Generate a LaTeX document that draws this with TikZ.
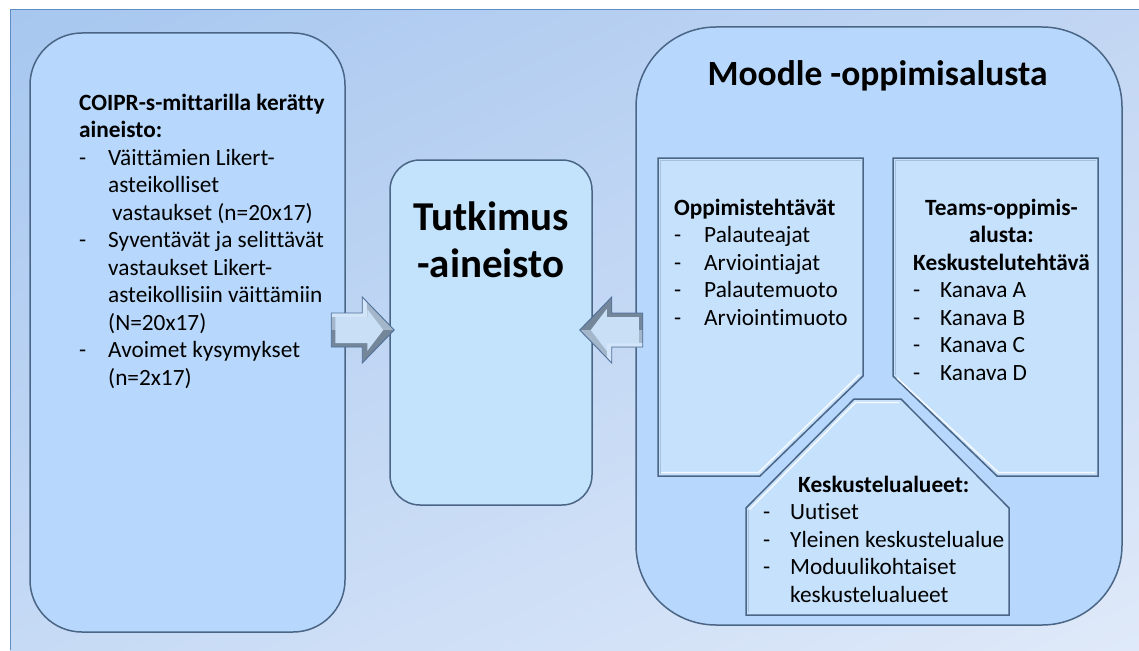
\documentclass[tikz,border=0pt]{standalone}
\usepackage{fontspec}
\setmainfont{Carlito}[Ligatures={NoCommon}]
\usetikzlibrary{calc,shadings}
\definecolor{bgA}{HTML}{A7C7EF}
\definecolor{bgB}{HTML}{C2D6F3}
\definecolor{bgC}{HTML}{C6DAF5}
\definecolor{bgD}{HTML}{DFE9F9}
\definecolor{bgline}{HTML}{5F8CC2}
\definecolor{boxfill}{HTML}{B7D8FC}
\definecolor{centerfill}{HTML}{C3E3FC}
\definecolor{innerfill}{HTML}{C6E1FC}
\definecolor{boxline}{HTML}{4A6585}
\definecolor{arrowdark}{HTML}{74869A}
\definecolor{arrowmid}{HTML}{A4B6C9}
\definecolor{arrowlight}{HTML}{C8DFF6}
\definecolor{arrowline}{HTML}{50709A}
\begin{document}
\begin{tikzpicture}[x=1pt,y=-1pt,
  bigbox/.style={draw=boxline, line width=1.5pt, fill=boxfill, inner sep=0pt},
  innerbox/.style={draw=boxline, line width=1.5pt, fill=innerfill},
  shine/.style={draw=white, line width=1.4pt, opacity=0.85},
  dim/.style={draw=boxline, line width=1.4pt, opacity=0.25},
  txt/.style={inner sep=0pt, font=\fontsize{23.3}{27.5}\selectfont, text=black},
  blockarrow/.pic={
    \fill[arrowdark]
      (-63,-17) -- (-32,-17) -- (-32,-33) -- (0,0) -- (-32,33) -- (-32,17) -- (-63,17) -- cycle;
    \begin{scope}
      \clip (-63,-17) -- (-32,-17) -- (-32,-33) -- (0,0) -- (-32,33) -- (-32,17) -- (-63,17) -- cycle;
      \fill[arrowmid] (-70,-40) rectangle (5,0);
      \fill[arrowlight!80!white] (-70,-40) rectangle (-27,-13);
    \end{scope}
    \fill[arrowlight]
      (-59,-13) -- (-27,-13) -- (-27,-21) -- (-11,0) -- (-27,21) -- (-27,13) -- (-59,13) -- cycle;
    \draw[arrowline, line width=0.9pt, line join=miter]
      (-63,-17) -- (-32,-17) -- (-32,-33) -- (0,0) -- (-32,33) -- (-32,17) -- (-63,17) -- cycle;
  }]
\useasboundingbox (0,0) rectangle (1139,650);
% background
\shade[upper left=bgA, upper right=bgB, lower left=bgC, lower right=bgD] (10,10) rectangle (1139,650);
\draw[bgline, line width=1pt] (10,650) -- (10,10) -- (1139,10);

% main boxes
\node[bigbox, rounded corners=52pt, minimum width=315pt, minimum height=599pt] (left) at (187.5,332.5) {};
\node[bigbox, fill=centerfill, rounded corners=30pt, minimum width=202pt, minimum height=345pt] (center) at (491,332.5) {};
\node[bigbox, rounded corners=80pt, minimum width=486pt, minimum height=598pt] (moodle) at (879,326) {};

% inner shapes
\draw[innerbox] (658,158) -- (863,158) -- (863,376) -- (760,476) -- (658,476) -- cycle;
\draw[dim] (660.5,474) -- (660.5,160.5) -- (861,160.5);
\draw[shine] (661,472.5) -- (758.5,472.5) -- (859.5,374.5);

\draw[innerbox] (893,158) -- (1098,158) -- (1098,476) -- (997,476) -- (893,376) -- cycle;
\draw[dim] (895.5,375) -- (895.5,160.5) -- (1096,160.5);
\draw[shine] (897,378) -- (998.5,472.5) -- (1095,472.5);

\draw[innerbox] (746,615) -- (746,508) -- (854,399) -- (901,399) -- (1009,508) -- (1009,615) -- cycle;
\draw[shine] (749.5,509.5) -- (855.5,402.5) -- (899,402.5);
\draw[dim] (748.5,612) -- (748.5,510);

% arrows
\coordinate (ltip) at ($(center.west)+(5,-2.5)$);
\coordinate (rtip) at ($(center.east)+(-13,-2.5)$);
\pic at (ltip) {blockarrow};
\pic[rotate=180] at (rtip) {blockarrow};

% texts
\node[txt, anchor=north west] (lefttxt) at (79,91) {%
\begin{tabular}{@{}p{29pt}@{}l@{}}
\multicolumn{2}{@{}l@{}}{\textbf{COIPR-s-mittarilla kerätty}}\\
\multicolumn{2}{@{}l@{}}{\textbf{aineisto:}}\\
-&Väittämien Likert-\\
&asteikolliset\\
&\hspace*{4pt}vastaukset (n=20x17)\\
-&Syventävät ja selittävät\\
&vastaukset Likert-\\
&asteikollisiin väittämiin\\
&(N=20x17)\\
-&Avoimet kysymykset\\
&(n=2x17)
\end{tabular}};

\node[inner sep=0pt, anchor=north, font=\fontsize{41}{47}\selectfont\bfseries] (centertxt) at (491,197.6) {%
\begin{tabular}{@{}c@{}}Tutkimus\\-aineisto\end{tabular}};

\node[inner sep=0pt, anchor=base, font=\fontsize{35.5}{42}\selectfont\bfseries] (moodletxt) at (877.5,85.5) {Moodle -oppimisalusta};

\node[txt, anchor=north west] (opptxt) at (674,196) {%
\begin{tabular}{@{}p{30pt}@{}l@{}}
\multicolumn{2}{@{}l@{}}{\textbf{Oppimistehtävät}}\\
-&Palauteajat\\
-&Arviointiajat\\
-&Palautemuoto\\
-&Arviointimuoto
\end{tabular}};

\node[txt, anchor=north west] (teamstxt) at (913,196) {%
\begin{tabular}{@{}p{27pt}@{}l@{}}
\multicolumn{2}{@{}c@{}}{\textbf{Teams-oppimis-}}\\
\multicolumn{2}{@{}c@{}}{\textbf{alusta:}}\\
\multicolumn{2}{@{}c@{}}{\textbf{Keskustelutehtävä}}\\
-&Kanava A\\
-&Kanava B\\
-&Kanava C\\
-&Kanava D
\end{tabular}};

\node[txt, anchor=north west] (kesktxt) at (763,473) {%
\begin{tabular}{@{}p{27pt}@{}l@{}}
\multicolumn{2}{@{}c@{}}{\textbf{Keskustelualueet:}}\\
-&Uutiset\\
-&Yleinen keskustelualue\\
-&Moduulikohtaiset\\
&keskustelualueet
\end{tabular}};
\end{tikzpicture}
\end{document}
